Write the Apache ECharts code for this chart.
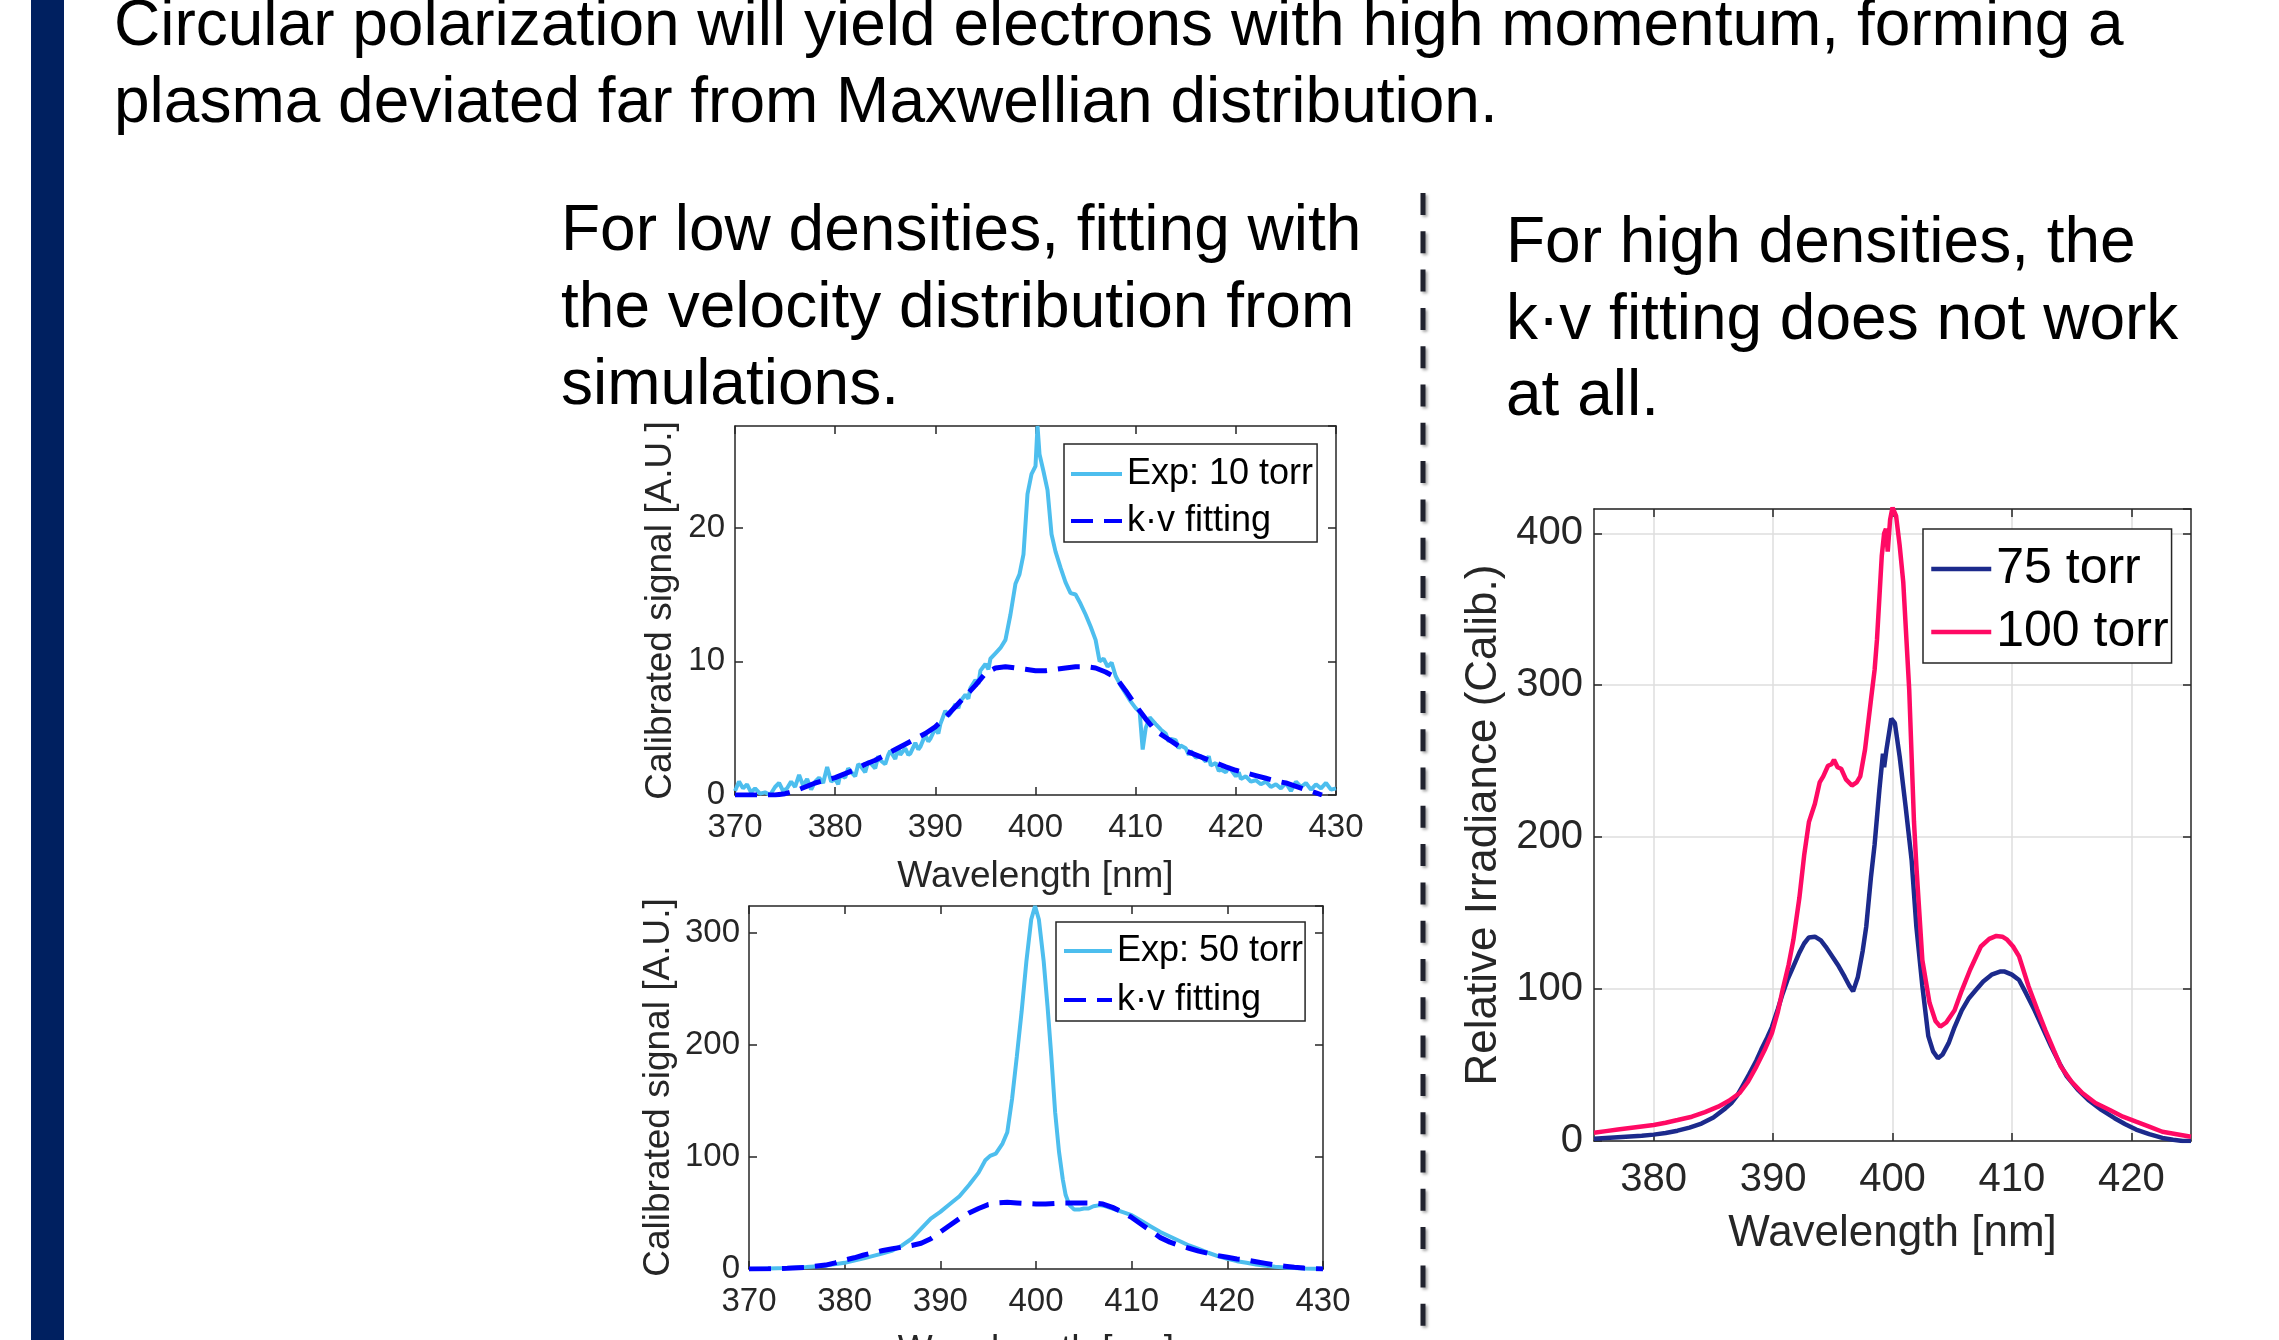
<!DOCTYPE html>
<html><head><meta charset="utf-8">
<script src="https://cdn.jsdelivr.net/npm/echarts/dist/echarts.min.js"></script>
<style>html,body{margin:0;padding:0;background:#fff;overflow:hidden}#c{width:2279px;height:1340px}</style>
</head><body><div id="c"></div>
<script>
// ---------- data ----------
const exp10 = [[370.0,0.3],[370.4,1.0],[370.8,0.5],[371.2,0.8],[371.6,0.2],[372.0,0.5],[372.5,0.1],[373.0,0.2],[373.5,0.0],[374.0,0.6],[374.4,0.9],[374.8,0.3],[375.2,0.5],[375.6,1.0],[376.0,0.6],[376.4,1.5],[376.8,0.7],[377.2,1.2],[377.6,0.4],[378.0,1.0],[378.4,1.3],[378.8,0.9],[379.2,2.1],[379.6,1.0],[380.0,1.2],[380.3,0.8],[380.5,1.5],[381.0,1.3],[381.3,2.0],[381.5,1.8],[382.0,1.4],[382.3,2.3],[382.5,2.2],[383.0,1.7],[383.3,2.5],[383.5,2.4],[384.0,2.0],[384.3,2.9],[384.5,2.6],[385.0,2.3],[385.3,3.0],[385.5,3.3],[386.0,2.7],[386.3,3.6],[386.5,3.0],[387.0,3.5],[387.3,3.0],[387.5,3.1],[388.0,3.9],[388.3,3.4],[388.5,3.6],[389.0,4.5],[389.3,4.0],[389.5,4.2],[390.0,5.0],[390.3,4.6],[390.5,5.3],[391.0,6.3],[391.3,5.9],[391.5,6.1],[392.0,6.8],[392.3,6.5],[392.5,7.0],[393.0,7.5],[393.3,7.2],[393.5,8.0],[394.0,8.6],[394.3,8.3],[394.5,9.3],[395.0,9.8],[395.3,9.4],[395.5,10.2],[396.0,10.6],[396.5,11.0],[397.0,11.6],[397.5,13.5],[398.0,15.8],[398.4,16.5],[398.8,18.0],[399.2,22.5],[399.6,24.0],[400.0,24.6],[400.2,27.6],[400.4,25.5],[400.8,24.2],[401.2,22.8],[401.6,19.5],[402.0,18.2],[402.5,17.0],[403.0,15.9],[403.5,15.1],[404.0,15.0],[404.5,14.3],[405.0,13.5],[405.5,12.6],[406.0,11.6],[406.4,10.0],[406.8,10.2],[407.2,9.6],[407.6,9.9],[408.0,8.9],[408.5,8.2],[409.0,7.6],[409.5,7.0],[410.0,6.5],[410.4,6.2],[410.7,3.4],[411.0,5.0],[411.4,5.8],[412.0,5.3],[412.5,4.9],[413.0,4.6],[413.3,4.0],[413.5,4.2],[414.0,4.1],[414.3,3.5],[414.5,3.7],[415.0,3.5],[415.3,3.0],[415.5,3.3],[416.0,2.8],[416.5,2.9],[417.0,2.5],[417.3,2.9],[417.5,2.2],[418.0,2.4],[418.3,1.8],[418.5,1.9],[419.0,1.7],[419.3,2.1],[419.5,1.9],[420.0,1.4],[420.3,1.7],[420.5,1.2],[421.0,1.4],[421.5,1.0],[422.0,1.1],[422.5,0.8],[423.0,1.0],[423.5,0.6],[424.0,0.8],[424.5,0.5],[425.0,0.9],[425.5,0.3],[426.0,1.0],[426.5,0.6],[427.0,0.9],[427.5,0.4],[428.0,0.8],[428.5,0.5],[429.0,0.9],[429.5,0.4],[430.0,0.5]];
const kv10 = [[370,0],[372,0],[374,0],[375,0.1],[376,0.3],[377,0.6],[378,0.9],[379,1.1],[380,1.3],[381,1.6],[382,1.9],[383,2.3],[384,2.6],[385,3.0],[386,3.4],[387,3.8],[388,4.2],[389,4.6],[390,5.1],[391,5.8],[392,6.6],[393,7.4],[394,8.2],[395,9.1],[396,9.5],[397,9.6],[398,9.5],[399,9.4],[400,9.3],[401,9.3],[402,9.4],[403,9.5],[404,9.6],[405,9.6],[406,9.5],[407,9.2],[408,8.8],[409,7.8],[410,6.7],[411,5.7],[412,4.8],[413,4.3],[414,3.8],[415,3.3],[416,3.0],[417,2.7],[418,2.4],[419,2.1],[420,1.85],[421,1.65],[422,1.45],[423,1.25],[424,1.05],[425,0.9],[426,0.65],[427,0.4],[428,0.15],[428.6,0]];
const exp50 = [[370,0],[372,0.5],[374,1.0],[376,1.8],[378,3.0],[380,5.5],[382,9.5],[384,14],[385,16.5],[386,21],[387,27],[388,36],[389,45],[390,51],[391,58],[392,65],[393,75],[394,86],[394.7,97],[395.2,101],[395.8,103],[396.5,112],[397,122],[397.5,152],[398,190],[398.5,230],[399,275],[399.5,312],[399.9,324],[400.3,312],[400.8,275],[401.2,235],[401.6,190],[402,140],[402.4,105],[402.8,80],[403.1,66],[403.5,57],[404,53],[404.5,53],[405,54],[405.5,54],[406,56],[406.7,57],[407.3,56],[408,54],[409,51],[410,48],[411,43],[412,38],[413,33],[414,29],[415,25],[416,21],[417,18],[418,14.5],[419,11.5],[420,9],[421,7],[422,5.5],[423,4],[424,2.8],[425,2],[426,1.3],[427,0.8],[428,0.5],[429,0.3],[430,0.2]];
const kv50 = [[370,0],[372,0.2],[374,0.6],[376,1.5],[378,3.5],[379,5.5],[380,8],[381,10],[382,12.5],[383,14.5],[384,16.5],[385,18],[386,19.5],[387,21],[388,23],[389,27],[390,33],[391,39],[392,45],[393,50],[394,54],[395,57.5],[396,59],[397,59.5],[398,59],[399,58.5],[400,58],[401,58],[402,58.5],[403,59],[404,59],[405,59],[406,59],[407,58],[408,55],[409,51],[410,46],[411,40],[412,34],[413,28],[414,24],[415,21],[416,18.5],[417,16],[418,14],[419,12],[420,10.5],[421,9],[422,8],[423,6.5],[424,5],[425,3.5],[426,2.5],[427,1.5],[428,0.8],[429,0.3],[430,0]];
const t75 = [[375.0,1.5],[376,2],[377,2.5],[378,3],[379,3.5],[380,4.2],[381,5.3],[382,6.8],[383,8.8],[384,11.5],[385,15.5],[386,21.5],[386.5,25],[387,30],[387.5,37],[388,44],[388.6,53],[389,60],[389.5,68],[389.9,75],[390.4,87],[390.8,97],[391.2,106],[391.7,115],[392.2,124],[392.6,130],[393.0,134],[393.5,134.5],[394.0,132],[394.4,128],[395.0,121],[395.5,115],[396.0,108],[396.4,102],[396.7,98.5],[397.1,108],[397.5,125],[397.8,141],[398.2,174],[398.5,195],[398.9,231],[399.2,255],[399.3,246],[399.5,258],[399.9,278],[400.2,275],[400.6,253],[401.1,220],[401.6,185],[402.0,141],[402.5,102],[403.0,69],[403.4,59],[403.8,54.5],[404.2,57],[404.7,64.4],[405.2,75],[405.8,86],[406.4,94],[407.0,99.5],[407.6,105],[408.3,109.5],[409.0,111.5],[409.4,111.5],[410.0,109.5],[410.6,106],[411.2,97],[411.9,86],[412.6,74],[413.3,62],[414.0,51],[414.6,42.5],[415.5,34],[416.4,27],[417.5,20.5],[418.6,15],[419.5,11],[420.4,7.5],[421.5,4.5],[422.6,2],[423.5,0.8],[424.3,0],[425,0]];
const t100 = [[375.0,5.5],[376,6.5],[377,7.5],[378,8.5],[379,9.5],[380,10.5],[381,12],[382,13.8],[383.2,16],[384.3,19],[385.4,22.6],[386.3,26.5],[387.2,31.6],[387.9,39],[388.6,49],[389.3,60],[389.9,71],[390.4,85],[390.8,99.5],[391.3,116],[391.7,132.5],[392.2,160],[392.6,188],[393.0,210],[393.5,222],[393.9,236],[394.2,240],[394.6,247],[394.9,248],[395.1,251],[395.4,246],[395.7,245],[396.1,238],[396.6,234],[397.0,236],[397.3,240],[397.7,257.7],[398.2,290.7],[398.5,310],[398.7,330],[399.1,385],[399.3,400],[399.45,403],[399.6,388],[399.8,409],[400.0,417],[400.3,411.5],[400.6,392],[400.9,368],[401.4,297],[401.8,210],[402.0,181],[402.5,119],[403.1,91],[403.6,79],[404.0,75.3],[404.5,78],[405.2,86],[405.8,99],[406.5,112.7],[407.4,128],[408.1,133],[408.7,135],[409.2,134.5],[409.6,132.5],[410.1,128],[410.6,121.5],[411.4,101.7],[412.1,87],[412.8,73],[413.5,60],[414.1,49],[415.0,39],[415.9,31.6],[417.0,25],[418.2,20.4],[419.3,16],[420.4,12.7],[421.5,9.5],[422.6,6.1],[423.8,4.5],[425,2.8]];
const xTicks3 = [380, 390, 400, 410, 420];
const names = { e10: 'Exp: 10 torr', e50: 'Exp: 50 torr', kv: 'k\u00b7v fitting', p75: '75 torr', p100: '100 torr' };
const titleLines = ['Circular polarization will yield electrons with high momentum, forming a', 'plasma deviated far from Maxwellian distribution.'];
const leftLines = ['For low densities, fitting with', 'the velocity distribution from', 'simulations.'];
const rightLines = ['For high densities, the', 'k\u00b7v fitting does not work', 'at all.'];

// ---------- styling ----------
const FF = '"Liberation Sans", Arial, Helvetica, sans-serif';
const AX = '#262626';
const C_EXP = '#4DBEEE', C_KV = '#0000FF', C_75 = '#1c2a8c', C_100 = '#ff0a64';
const KV_DASH = [22, 11];

function xAx(grid, min, max, opt) {
  const o = opt || {};
  const base = {
    type: 'value', gridIndex: grid, min: min, max: max, position: o.top ? 'top' : 'bottom',
    axisLine: { show: true, onZero: false, lineStyle: { color: AX, width: 1.5 } },
    axisTick: { show: true, inside: true, length: 8, lineStyle: { color: AX, width: 1.5 } },
    axisLabel: { show: !o.top, color: AX, fontSize: o.fs, fontFamily: FF, margin: o.lm },
    splitLine: { show: !!o.grid, lineStyle: { color: '#dedede', width: 1.5 } },
    name: o.top ? '' : o.name, nameLocation: 'middle', nameGap: o.ng,
    nameTextStyle: { color: AX, fontSize: o.nfs, fontFamily: FF }
  };
  if (o.interval) base.interval = o.interval;
  if (o.custom) { base.axisTick.customValues = o.custom; base.axisLabel.customValues = o.custom; }
  return base;
}
function yAx(grid, min, max, opt) {
  const o = opt || {};
  return {
    type: 'value', gridIndex: grid, min: min, max: max, interval: o.interval, position: o.right ? 'right' : 'left',
    axisLine: { show: true, onZero: false, lineStyle: { color: AX, width: 1.5 } },
    axisTick: { show: true, inside: true, length: 8, lineStyle: { color: AX, width: 1.5 } },
    axisLabel: { show: !o.right, color: AX, fontSize: o.fs, fontFamily: FF, margin: o.lm, showMaxLabel: false },
    splitLine: { show: !!o.grid, lineStyle: { color: '#dedede', width: 1.5 } },
    name: o.right ? '' : o.name, nameLocation: 'middle', nameGap: o.ng, nameRotate: 90,
    nameTextStyle: { color: AX, fontSize: o.nfs, fontFamily: FF }
  };
}
function line(name, data, xi, yi, color, width, dash, z) {
  return {
    type: 'line', name: name, data: data, xAxisIndex: xi, yAxisIndex: yi,
    showSymbol: false, symbol: 'none', clip: true, z: z || 2,
    lineStyle: { color: color, width: width, type: dash || 'solid' },
    itemStyle: { color: color }, emphasis: { disabled: true }
  };
}
function legend(left, top, data, fs, iw, gap, pad, lw) {
  return {
    orient: 'vertical', left: left, top: top, data: data, selectedMode: false,
    itemWidth: iw, itemHeight: 1, itemGap: gap, padding: pad,
    itemStyle: { opacity: 0 },
    lineStyle: { width: lw },
    backgroundColor: '#fff', borderColor: AX, borderWidth: 1.5, borderRadius: 0,
    textStyle: { color: '#000', fontSize: fs, fontFamily: FF }
  };
}
function txt(s, x, baseline, fs) {
  return { type: 'text', x: x, y: baseline - 0.3465 * fs, z: 10, silent: true,
    style: { text: s, fill: '#000', fontSize: fs, fontFamily: FF, align: 'left', verticalAlign: 'middle' } };
}

const graphics = [
  { type: 'rect', shape: { x: 31, y: 0, width: 33, height: 1340 }, style: { fill: '#002060' }, silent: true },
  { type: 'line', shape: { x1: 1423, y1: 193, x2: 1423, y2: 1340 }, silent: true,
    style: { stroke: '#20222e', lineWidth: 5, lineDash: [22, 16.3], shadowBlur: 3, shadowColor: 'rgba(0,0,0,0.35)', shadowOffsetX: 2, shadowOffsetY: 2 } }
];
const TFS = 64;
titleLines.forEach((s, i) => graphics.push(txt(s, 114, 50 + 77 * i, TFS)));
leftLines.forEach((s, i) => graphics.push(txt(s, 561, 255 + 77 * i, TFS)));
rightLines.forEach((s, i) => graphics.push(txt(s, 1506, 267 + 76.5 * i, TFS)));

const option = {
  animation: false,
  backgroundColor: '#fff',
  grid: [
    { left: 735, top: 426, width: 601, height: 369, containLabel: false, outerBoundsMode: 'none' },
    { left: 749, top: 906, width: 574, height: 363, containLabel: false, outerBoundsMode: 'none' },
    { left: 1594, top: 509, width: 597, height: 632, containLabel: false, outerBoundsMode: 'none' }
  ],
  xAxis: [
    xAx(0, 370, 430, { interval: 10, fs: 33, lm: 16, name: 'Wavelength [nm]', ng: 63, nfs: 37 }),
    xAx(0, 370, 430, { interval: 10, top: true }),
    xAx(1, 370, 430, { interval: 10, fs: 33, lm: 16, name: 'Wavelength [nm]', ng: 63, nfs: 37 }),
    xAx(1, 370, 430, { interval: 10, top: true }),
    xAx(2, 375, 425, { custom: xTicks3, fs: 40, lm: 19, name: 'Wavelength [nm]', ng: 71, nfs: 44, grid: true }),
    xAx(2, 375, 425, { custom: xTicks3, top: true })
  ],
  yAxis: [
    yAx(0, 0, 27.6, { interval: 10, fs: 33, lm: 10, name: 'Calibrated signal [A.U.]', ng: 56, nfs: 37 }),
    yAx(0, 0, 27.6, { interval: 10, right: true }),
    yAx(1, 0, 324, { interval: 100, fs: 33, lm: 9, name: 'Calibrated signal [A.U.]', ng: 72, nfs: 37 }),
    yAx(1, 0, 324, { interval: 100, right: true }),
    yAx(2, 0, 416, { interval: 100, fs: 40, lm: 11, name: 'Relative Irradiance (Calib.)', ng: 88, nfs: 44, grid: true }),
    yAx(2, 0, 416, { interval: 100, right: true })
  ],
  legend: [
    legend(1064, 444, [names.e10, names.kv], 36, 51, 11, [12, 4, 3, 5], 4),
    legend(1056, 922, [names.e50, names.kv], 36, 48, 13, [11, 2, 3, 6], 4),
    legend(1923, 529, [names.p75, names.p100], 50, 60, 13, [15, 3, 6, 6], 4.5)
  ],
  series: [
    line(names.e10, exp10, 0, 0, C_EXP, 4),
    line(names.kv, kv10, 0, 0, C_KV, 5, KV_DASH, 3),
    line(names.e50, exp50, 2, 2, C_EXP, 4),
    line(names.kv, kv50, 2, 2, C_KV, 5, KV_DASH, 3),
    line(names.p75, t75, 4, 4, C_75, 4.5),
    line(names.p100, t100, 4, 4, C_100, 4.5, null, 3)
  ],
  graphic: graphics
};
const chart = echarts.init(document.getElementById('c'), null, { renderer: 'canvas', width: 2279, height: 1340 });
chart.setOption(option);
</script></body></html>
